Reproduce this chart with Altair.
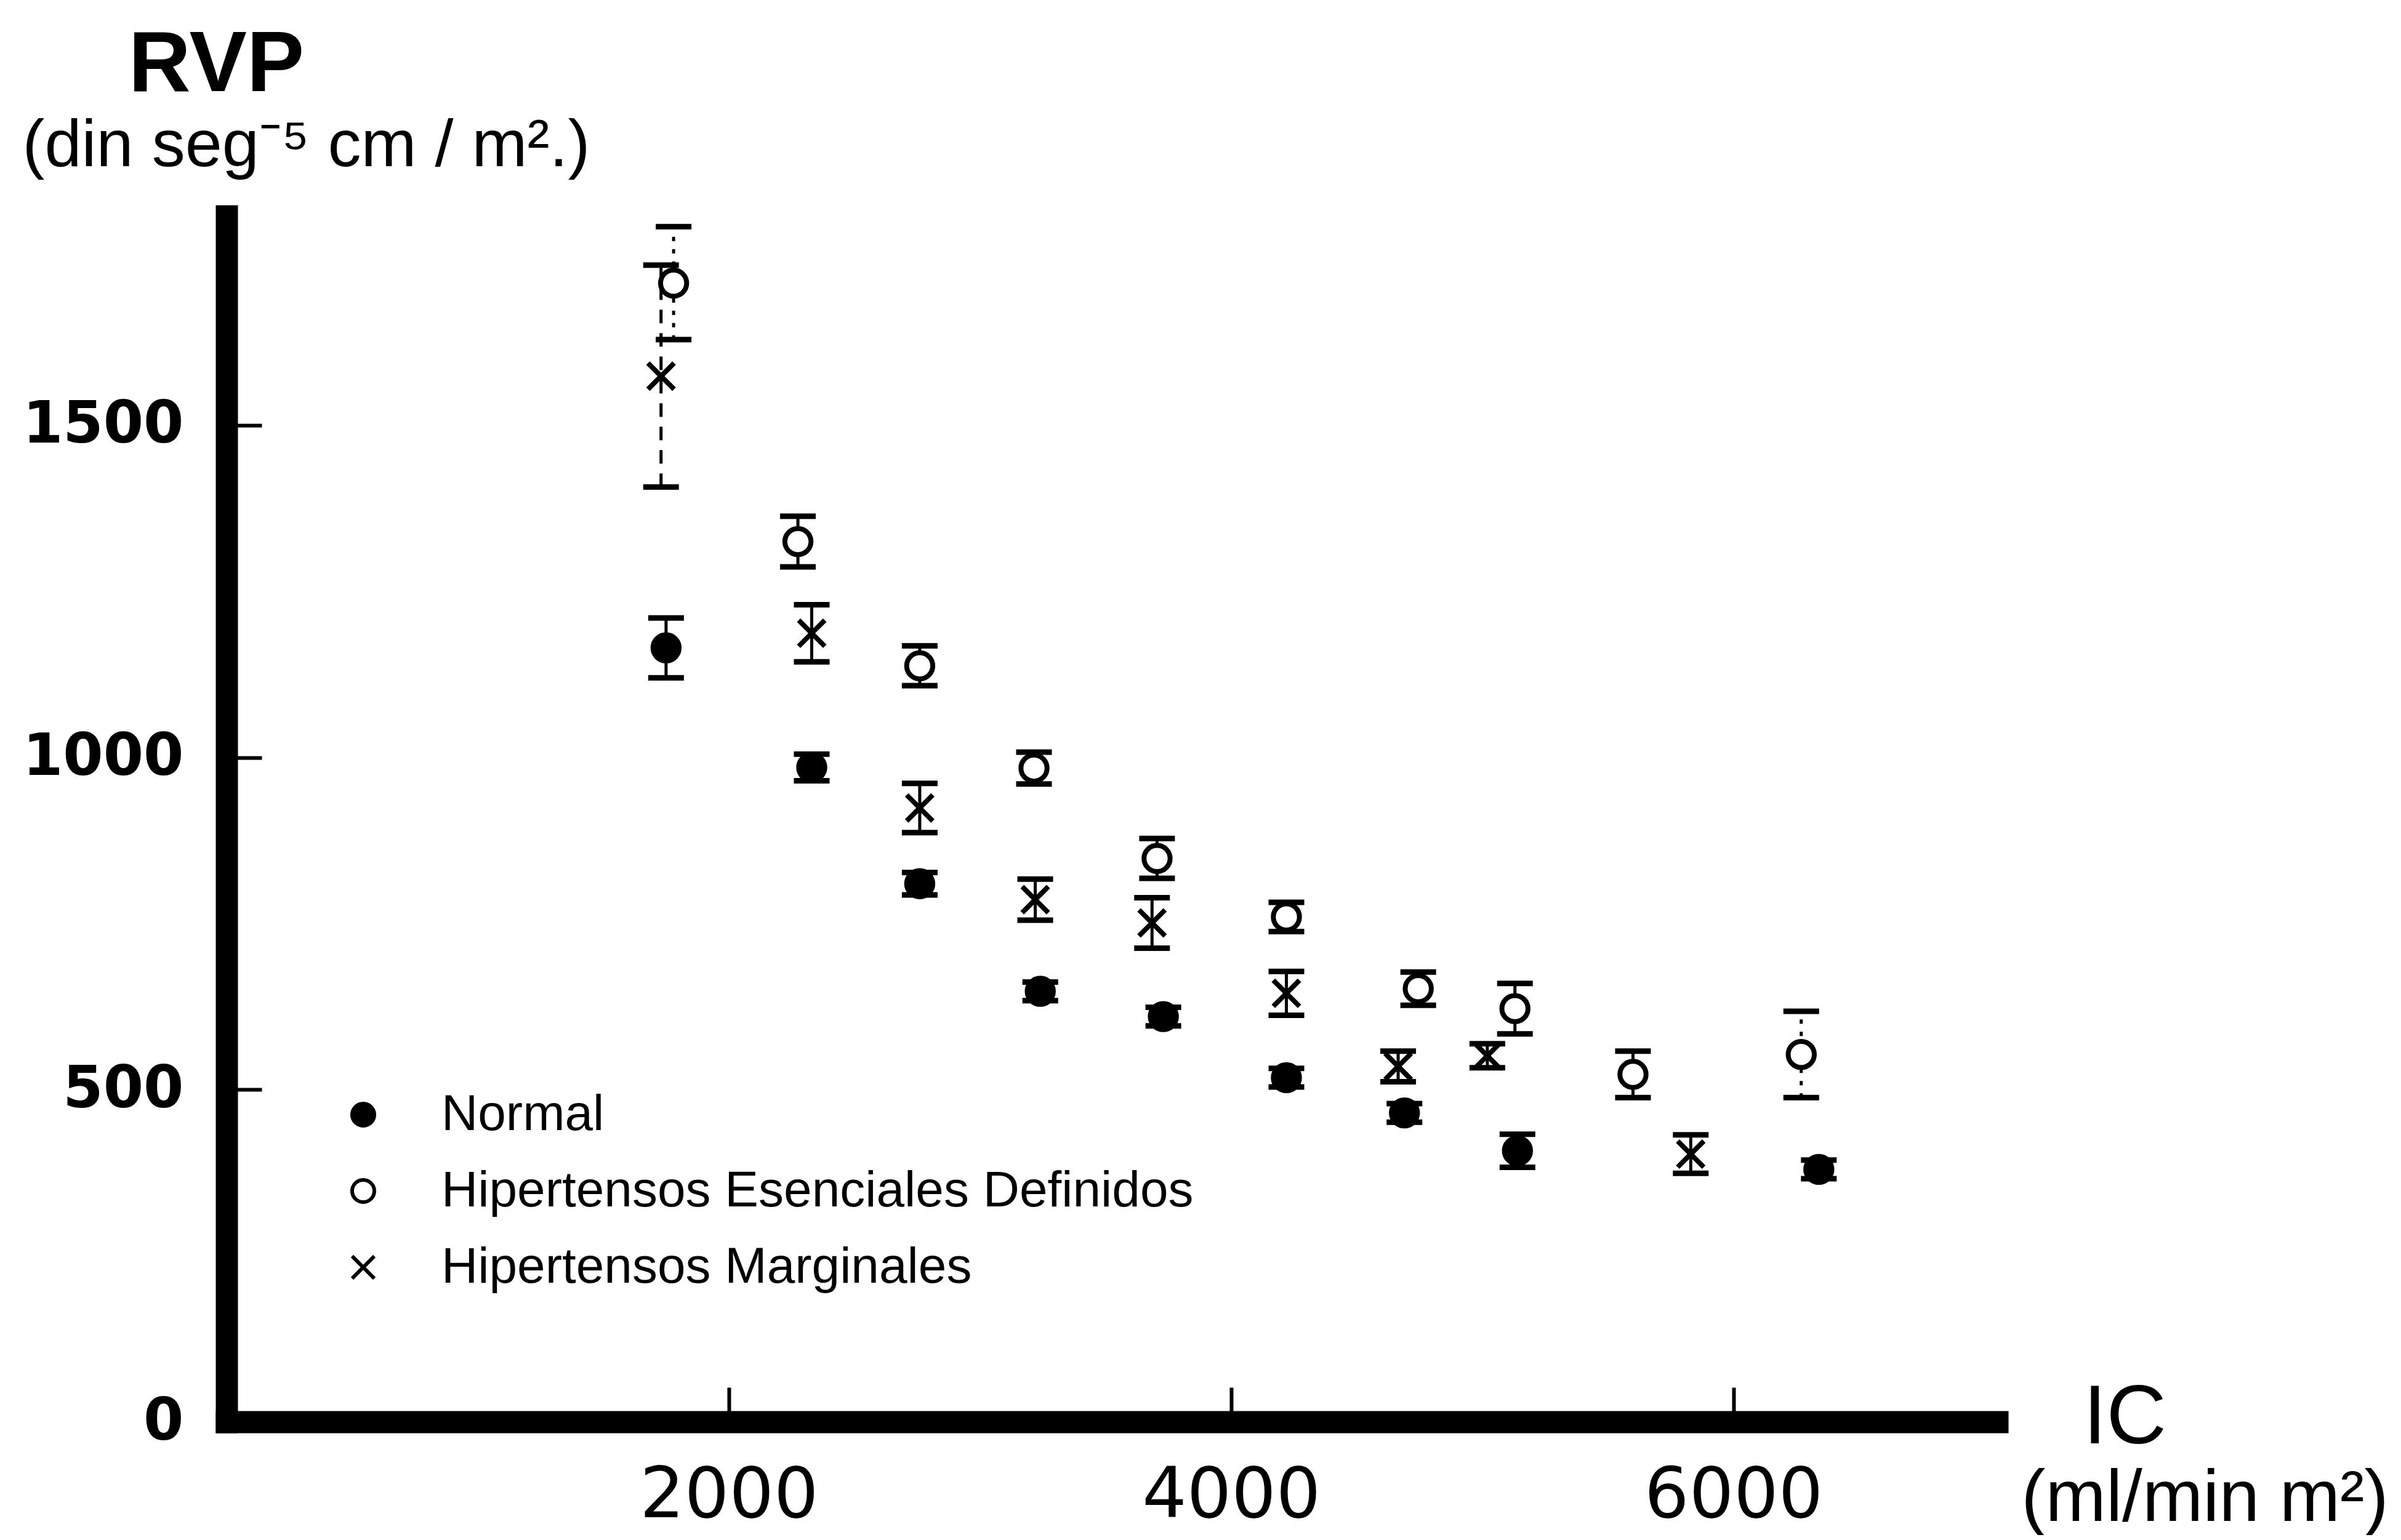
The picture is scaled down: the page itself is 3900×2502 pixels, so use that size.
import altair as alt
import pandas as pd

# ---------------- data ----------------
GRUPOS = ["Normal", "Hipertensos Esenciales Definidos", "Hipertensos Marginales"]

IC_NORMAL = [1750, 2330, 2760, 3240, 3730, 4220, 4690, 5140, 6340]
RVP_NORMAL = [1165, 985, 810, 648, 610, 518, 465, 408, 380]
EE_NORMAL = [45, 20, 17, 14, 14, 14, 14, 25, 14]

IC_DEF = [1780, 2275, 2760, 3215, 3705, 4220, 4745, 5130, 5600, 6270]
RVP_DEF = [1714, 1325, 1138, 984, 848, 760, 652, 622, 523, 553]
EE_DEF = [85, 38, 30, 24, 30, 22, 25, 38, 35, 65]

IC_MAR = [1730, 2330, 2760, 3220, 3685, 4220, 4665, 5020, 5830]
RVP_MAR = [1574, 1187, 924, 786, 751, 645, 535, 551, 403]
EE_MAR = [167, 43, 37, 31, 38, 33, 23, 18, 29]

X_TICKS = [2000, 4000, 6000]
Y_TICKS = [0, 500, 1000, 1500]

# error bars drawn with a broken line in the figure
LINEA = {
    ("Hipertensos Marginales", 0): "discontinua",
    ("Hipertensos Esenciales Definidos", 0): "punteada",
    ("Hipertensos Esenciales Definidos", 9): "punteada",
}

rows = []
for g, ics, rvps, ees in [
    (GRUPOS[0], IC_NORMAL, RVP_NORMAL, EE_NORMAL),
    (GRUPOS[1], IC_DEF, RVP_DEF, EE_DEF),
    (GRUPOS[2], IC_MAR, RVP_MAR, EE_MAR),
]:
    for i, (a, b, c) in enumerate(zip(ics, rvps, ees)):
        rows.append(dict(grupo=g, ic=a, rvp=b, lo=b - c, hi=b + c,
                         linea=LINEA.get((g, i), "continua")))
df = pd.DataFrame(rows)

# ---------------- layout ----------------
W, H = 2876, 1959
X_PATH = "M-1,-1L1,1M1,-1L-1,1"

xs = alt.Scale(domain=[0, 7050], nice=False, zero=False)
ys = alt.Scale(domain=[0, 1815], nice=False, zero=False)

ax_x_main = alt.Axis(
    orient="bottom", values=X_TICKS, format="d", grid=False,
    domain=True, domainColor="black", domainWidth=36, domainCap="square",
    ticks=False, tickSize=0,
    labelFont="DejaVu Sans", labelFontSize=114, labelColor="black",
    labelPadding=64, labelFlush=False, labelOverlap=False, labelLimit=0,
    title="IC", titleFont="Liberation Sans", titleFontSize=135,
    titleFontWeight="normal", titleColor="black", titleX=3083, titleY=34,
    titleAlign="center", titleBaseline="alphabetic", titleAngle=0,
)
ax_y_main = alt.Axis(
    orient="left", values=Y_TICKS, format="d", grid=False,
    domain=True, domainColor="black", domainWidth=36, domainCap="square",
    ticks=False, tickSize=0,
    labelFont="DejaVu Sans", labelFontSize=94, labelFontWeight="bold",
    labelColor="black", labelPadding=70, labelFlush=False, labelOverlap=False,
    labelLimit=0,
    title="RVP", titleFont="Liberation Sans", titleFontSize=140,
    titleFontWeight="bold", titleColor="black", titleX=-17, titleY=-204,
    titleAlign="center", titleBaseline="alphabetic", titleAngle=0,
)
ax_x_ticks = alt.Axis(
    orient="top", offset=-H, values=X_TICKS, grid=False, domain=False,
    labels=False, ticks=True, tickSize=56, tickWidth=6, tickColor="black",
    title="(ml/min m²)", titleFont="Liberation Sans", titleFontSize=118,
    titleFontWeight="normal", titleColor="black", titleX=3213, titleY=160,
    titleAlign="center", titleBaseline="alphabetic", titleAngle=0,
)
ax_y_ticks = alt.Axis(
    orient="right", offset=-W, values=Y_TICKS[1:], grid=False, domain=False,
    labels=False, ticks=True, tickSize=57, tickWidth=6, tickColor="black",
    title="(din seg⁻⁵ cm / m².)", titleFont="Liberation Sans", titleFontSize=108,
    titleFontWeight="normal", titleColor="black", titleX=129, titleY=-82,
    titleAlign="center", titleBaseline="alphabetic", titleAngle=0,
)

leyenda = alt.Legend(
    title=None, orient="none", legendX=181, legendY=1419, padding=0,
    labelFont="Liberation Sans", labelFontSize=82, labelColor="black",
    labelOffset=86, labelLimit=0, rowPadding=42, symbolSize=1300,
    symbolStrokeWidth=6, symbolOpacity=1,
)

base = alt.Chart(df)

stems = base.mark_rule(color="black", strokeWidth=5).encode(
    x=alt.X("ic:Q", scale=xs, axis=ax_x_main),
    y=alt.Y("lo:Q", scale=ys, axis=ax_y_main),
    y2="hi:Q",
    strokeDash=alt.StrokeDash(
        "linea:N",
        scale=alt.Scale(domain=["continua", "discontinua", "punteada"],
                        range=[[1, 0], [22, 16], [7, 13]]),
        legend=None,
    ),
)

caps_lo = base.mark_tick(color="black", orient="horizontal", size=58,
                         thickness=9, opacity=1).encode(
    x=alt.X("ic:Q", scale=xs, axis=None),
    y=alt.Y("lo:Q", scale=ys, axis=None),
)
caps_hi = base.mark_tick(color="black", orient="horizontal", size=58,
                         thickness=9, opacity=1).encode(
    x=alt.X("ic:Q", scale=xs, axis=None),
    y=alt.Y("hi:Q", scale=ys, axis=None),
)

points = base.mark_point(filled=False, size=1800, strokeWidth=8, opacity=1).encode(
    x=alt.X("ic:Q", scale=xs, axis=ax_x_ticks),
    y=alt.Y("rvp:Q", scale=ys, axis=ax_y_ticks),
    shape=alt.Shape("grupo:N",
                    scale=alt.Scale(domain=GRUPOS, range=["circle", "circle", X_PATH]),
                    legend=leyenda),
    fill=alt.Fill("grupo:N",
                  scale=alt.Scale(domain=GRUPOS, range=["black", "white", "white"]),
                  legend=leyenda),
    stroke=alt.Stroke("grupo:N",
                      scale=alt.Scale(domain=GRUPOS, range=["black", "black", "black"]),
                      legend=leyenda),
)

chart = (
    alt.layer(stems, caps_lo, caps_hi, points)
    .resolve_axis(x="independent", y="independent")
    .properties(
        width=W, height=H,
        padding={"left": 360, "top": 343, "right": 640, "bottom": 184},
        autosize=alt.AutoSizeParams(type="none"),
        background="white",
    )
    .configure_view(stroke=None)
)

chart.save("out.html", embed_options={"renderer": "svg", "actions": False})
